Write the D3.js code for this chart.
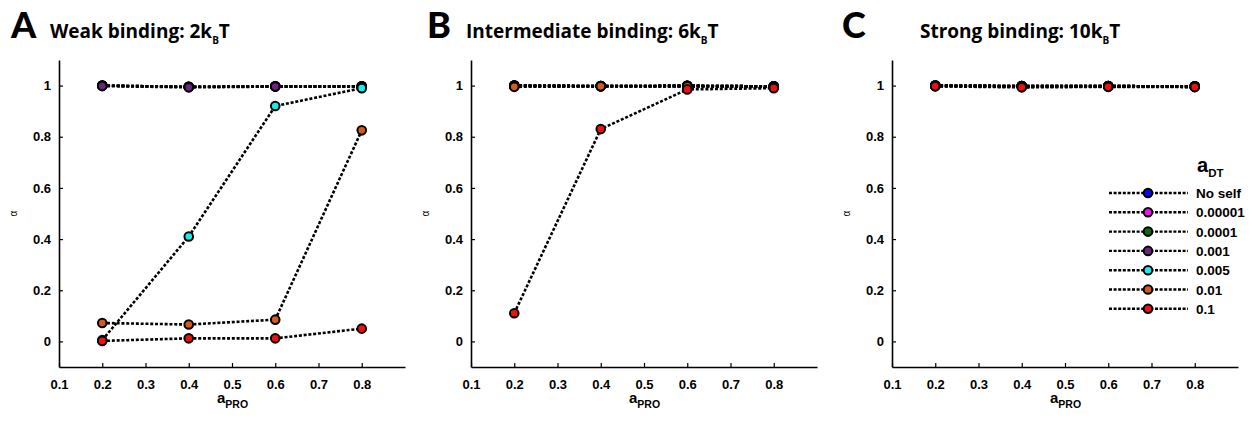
<!DOCTYPE html>
<html>
<head>
<meta charset="utf-8">
<script src="https://cdn.jsdelivr.net/npm/d3@7"></script>
<style>
  body { margin: 0; background: #fff; }
  svg text { font-family: "Liberation Sans", Arial, sans-serif; }
  .title { font-family: "Open Sans", "Lato", sans-serif; font-weight: 700; }
  .letter { font-family: "Lato", "Open Sans", sans-serif; font-weight: 900; }
</style>
</head>
<body>
<div id="chart"></div>
<script>
// x values (a_PRO)
const aPro = [0.2, 0.4, 0.6, 0.8]

// series names and colours (legend order, drawn in this order)
const seriesNames = ['No self', '0.00001', '0.0001', '0.001', '0.005', '0.01', '0.1']
const seriesColors = ['#0a0ae6', '#f010f0', '#0b6a12', '#6b2480', '#12f0f0', '#d65a1c', '#f20f0f']

// panel A: weak binding 2kBT
const weakVals = [
  [1.0, 0.995, 0.997, 0.997],
  [1.0, 0.995, 0.997, 0.997],
  [1.0, 0.995, 0.997, 0.997],
  [0.998, 0.993, 0.996, 0.996],
  [0.005, 0.41, 0.92, 0.99],
  [0.072, 0.066, 0.085, 0.825],
  [0.002, 0.012, 0.012, 0.05]
]
// panel B: intermediate binding 6kBT
const interVals = [
  [1.0, 0.998, 0.999, 0.997],
  [1.0, 0.998, 0.999, 0.997],
  [1.0, 0.998, 0.999, 0.997],
  [1.0, 0.998, 0.999, 0.997],
  [0.998, 0.997, 0.998, 0.996],
  [0.995, 0.997, 0.997, 0.994],
  [0.11, 0.83, 0.985, 0.99]
]
// panel C: strong binding 10kBT
const strongVals = [
  [1.0, 0.998, 0.998, 0.997],
  [1.0, 0.998, 0.998, 0.997],
  [1.0, 0.998, 0.998, 0.997],
  [1.0, 0.998, 0.998, 0.997],
  [0.999, 0.997, 0.997, 0.996],
  [0.998, 0.995, 0.996, 0.995],
  [0.997, 0.993, 0.995, 0.994]
]

const xTicks = [0.1, 0.2, 0.3, 0.4, 0.5, 0.6, 0.7, 0.8]
const yTicks = [0, 0.2, 0.4, 0.6, 0.8, 1]

const panels = [
  {letter: 'A', title: 'Weak binding: 2k', value: weakVals, left: 59, letterX: 11, titleX: 50},
  {letter: 'B', title: 'Intermediate binding: 6k', value: interVals, left: 471, letterX: 427, titleX: 466},
  {letter: 'C', title: 'Strong binding: 10k', value: strongVals, left: 892, letterX: 842, titleX: 920}
]

const width = 1258, height = 421
const plotW = 346, plotTop = 60, plotBottom = 367

const svg = d3.select('#chart').append('svg')
  .attr('width', width)
  .attr('height', height)

panels.forEach(p => {

  let x = d3.scaleLinear().domain([0.1, 0.9]).range([p.left, p.left + plotW])
  let y = d3.scaleLinear().domain([-0.1, 1.1]).range([plotBottom, plotTop])

  let g = svg.append('g')

  // letter + title
  g.append('text')
    .attr('class', 'letter')
    .attr('x', p.letterX)
    .attr('y', 38)
    .attr('font-size', 36)
    .text(p.letter)

  let t = g.append('text')
    .attr('class', 'title')
    .attr('x', p.titleX)
    .attr('y', 38)
    .attr('font-size', 19)
  t.append('tspan').text(p.title)
  t.append('tspan').attr('font-size', 10).attr('dy', 6).text('B')
  t.append('tspan').attr('dy', -6).text('T')

  // axes
  let xAxis = g.append('g')
    .attr('transform', `translate(0,${plotBottom})`)
    .call(d3.axisBottom(x).tickValues(xTicks).tickSizeInner(-4).tickSizeOuter(0).tickPadding(13).tickFormat(d3.format('.1f')))
  xAxis.select('.domain').attr('stroke-width', 1.6)

  let yAxis = g.append('g')
    .attr('transform', `translate(${p.left},0)`)
    .call(d3.axisLeft(y).tickValues(yTicks).tickSizeInner(-4).tickSizeOuter(0).tickPadding(8).tickFormat(d => d))
  yAxis.select('.domain').attr('stroke-width', 1.6)

  g.selectAll('.tick line').attr('stroke-width', 1.2)
  g.selectAll('.tick text')
    .attr('font-size', 13)
    .attr('font-weight', 700)
    .attr('font-family', 'Liberation Sans, Arial, sans-serif')

  // axis labels
  g.append('text')
    .attr('transform', `translate(${p.left - 42},${(plotTop + plotBottom) / 2}) rotate(-90)`)
    .attr('text-anchor', 'middle')
    .attr('font-size', 10)
    .attr('font-family', 'DejaVu Serif, serif')
    .text('α')

  let xl = g.append('text')
    .attr('x', p.left + 158)
    .attr('y', 403)
    .attr('font-size', 15)
    .attr('font-weight', 700)
  xl.append('tspan').text('a')
  xl.append('tspan').attr('font-size', 10.5).attr('dy', 5).text('PRO')

  // series
  let line = d3.line().x((d, i) => x(aPro[i])).y(d => y(d))

  p.value.forEach((vals, s) => {
    g.append('path')
      .attr('d', line(vals))
      .attr('fill', 'none')
      .attr('stroke', '#000')
      .attr('stroke-width', 2.6)
      .attr('stroke-dasharray', '3,1.8')

    g.selectAll('.pt' + s)
      .data(vals)
      .enter()
      .append('circle')
      .attr('cx', (d, i) => x(aPro[i]))
      .attr('cy', d => y(d))
      .attr('r', 4.3)
      .attr('fill', seriesColors[s])
      .attr('stroke', '#000')
      .attr('stroke-width', 2)
  })
})

// legend (in panel C)
const leg = svg.append('g')
let lt = leg.append('text')
  .attr('x', 1197)
  .attr('y', 172)
  .attr('font-size', 20)
  .attr('font-weight', 700)
lt.append('tspan').text('a')
lt.append('tspan').attr('font-size', 11.5).attr('dy', 5).text('DT')

seriesNames.forEach((name, i) => {
  let yy = 193 + i * 19.3
  leg.append('line')
    .attr('x1', 1109).attr('x2', 1188)
    .attr('y1', yy).attr('y2', yy)
    .attr('stroke', '#000')
    .attr('stroke-width', 2.4)
    .attr('stroke-dasharray', '3,1.6')
  leg.append('circle')
    .attr('cx', 1148).attr('cy', yy)
    .attr('r', 4.3)
    .attr('fill', seriesColors[i])
    .attr('stroke', '#000')
    .attr('stroke-width', 2)
  leg.append('text')
    .attr('x', 1196).attr('y', yy + 5)
    .attr('font-size', 13.5)
    .attr('font-weight', 700)
    .text(name)
})
</script>
</body>
</html>
